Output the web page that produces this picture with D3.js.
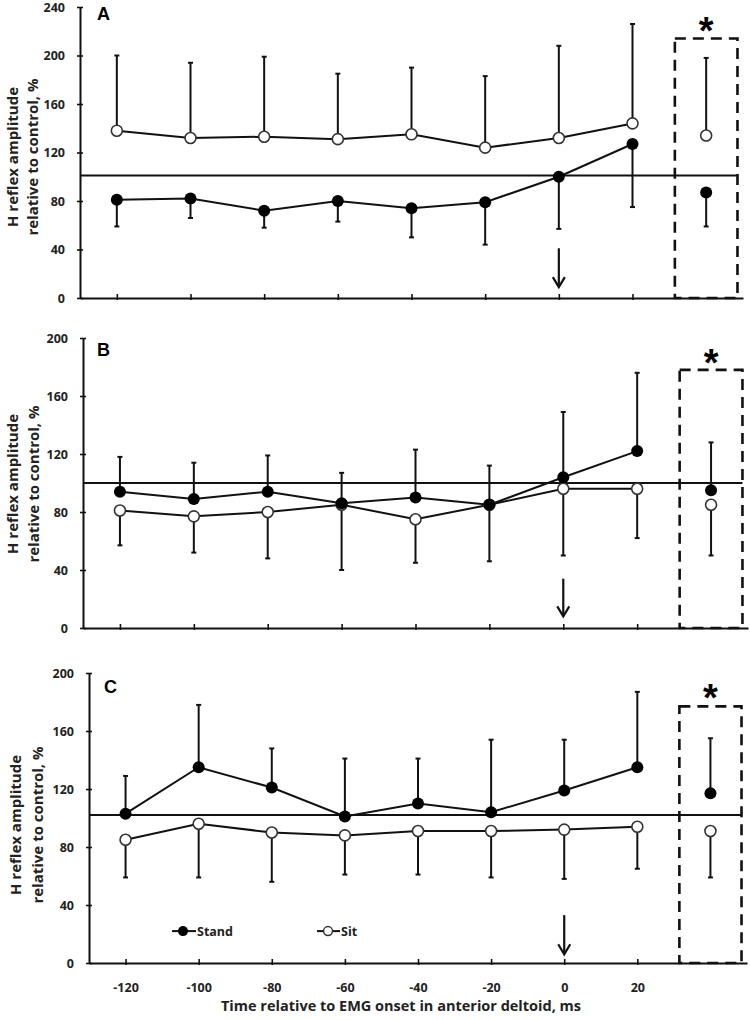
<!DOCTYPE html>
<html><head><meta charset="utf-8">
<script src="https://cdn.jsdelivr.net/npm/d3@7"></script>
<style>body{margin:0;background:#fff}svg{display:block}</style>
</head><body><svg id="c" width="750" height="1020"></svg>
<script>
// ---------- data ----------
const times = [-120, -100, -80, -60, -40, -20, 0, 20];
const summaryTime = 40;
const xTickLabels = ["-120", "-100", "-80", "-60", "-40", "-20", "0", "20"];
const yTicksA = [0, 40, 80, 120, 160, 200, 240];
const yTicksBC = [0, 40, 80, 120, 160, 200];
const legendNames = ["Stand", "Sit"];
const panelLabels = ["A", "B", "C"];
const xTitle = "Time relative to EMG onset in anterior deltoid, ms";
const yTitle1 = "H reflex amplitude";
const yTitle2 = "relative to control, %";
const refValues = [101, 100, 102];

// Panel A (stand SD drawn downward, sit SD upward)
const standA = [81, 82, 72, 80, 74, 79, 100, 127];
const standAErr = [59, 66, 58, 63, 50, 44, 57, 75];
const sitA = [138, 132, 133, 131, 135, 124, 132, 144];
const sitAErr = [200, 194, 199, 185, 190, 183, 208, 226];
const standASum = [87, 59];   // [mean, error end]
const sitASum = [134, 198];

// Panel B (stand SD upward, sit SD downward)
const standB = [94, 89, 94, 86, 90, 85, 104, 122];
const standBErr = [118, 114, 119, 107, 123, 112, 149, 176];
const sitB = [81, 77, 80, 85, 75, 85, 96, 96];
const sitBErr = [57, 52, 48, 40, 45, 46, 50, 62];
const standBSum = [95, 128];
const sitBSum = [85, 50];

// Panel C (stand SD upward, sit SD downward)
const standC = [103, 135, 121, 101, 110, 104, 119, 135];
const standCErr = [129, 178, 148, 141, 141, 154, 154, 187];
const sitC = [85, 96, 90, 88, 91, 91, 92, 94];
const sitCErr = [59, 59, 56, 61, 61, 59, 58, 65];
const standCSum = [117, 155];
const sitCSum = [91, 59];

// ---------- layout ----------
const ink = "#111";
const FONT = "'Open Sans', Lato, sans-serif";
const panels = [
  {label: panelLabels[0], top: 7, bottom: 298, axisX: 80, xRight: 743, yMax: 240, yTicks: yTicksA,
   stand: standA, standErr: standAErr, sit: sitA, sitErr: sitAErr, standSum: standASum, sitSum: sitASum,
   ref: refValues[0], boxTop: 214, star: 227, arrow: [41, 9], labelPos: [97, 20], titleC: 157, titleX: [18, 38], showX: false},
  {label: panelLabels[1], top: 338, bottom: 628, axisX: 83, xRight: 748, yMax: 200, yTicks: yTicksBC,
   stand: standB, standErr: standBErr, sit: sitB, sitErr: sitBErr, standSum: standBSum, sitSum: sitBSum,
   ref: refValues[1], boxTop: 178, star: 188, arrow: [34, 8], labelPos: [97, 356], titleC: 484, titleX: [18, 39], showX: false},
  {label: panelLabels[2], top: 673, bottom: 963, axisX: 89, xRight: 747, yMax: 200, yTicks: yTicksBC,
   stand: standC, standErr: standCErr, sit: sitC, sitErr: sitCErr, standSum: standCSum, sitSum: sitCSum,
   ref: refValues[2], boxTop: 177, star: 188, arrow: [33, 6], labelPos: [104, 693], titleC: 825, titleX: [21, 43], showX: true}
];

const svg = d3.select("#c");

panels.forEach(p => {
  const g = svg.append("g");
  const x = d3.scaleLinear().domain([-130, 50]).range([p.axisX, p.xRight]);
  const y = d3.scaleLinear().domain([0, p.yMax]).range([p.bottom, p.top]);

  // y axis
  const ya = g.append("g").attr("transform", `translate(${p.axisX},0)`)
    .call(d3.axisLeft(y).tickValues(p.yTicks).tickSize(3).tickSizeOuter(0).tickPadding(12));
  ya.select(".domain").attr("stroke", ink).attr("stroke-width", 2);
  ya.selectAll(".tick line").attr("stroke", ink).attr("stroke-width", 1.6).attr("x1", 3).attr("x2", -3);
  ya.selectAll(".tick text").attr("fill", "#222").style("font", `bold 12.5px ${FONT}`);

  // x axis
  const xa = g.append("g").attr("transform", `translate(0,${p.bottom})`)
    .call(d3.axisBottom(x).tickValues(times).tickSize(3).tickSizeOuter(0).tickPadding(17)
      .tickFormat((d, i) => p.showX ? xTickLabels[i] : ""));
  xa.select(".domain").attr("stroke", ink).attr("stroke-width", 2);
  xa.selectAll(".tick line").attr("stroke", ink).attr("stroke-width", 1.6).attr("y1", -4).attr("y2", 2);
  xa.selectAll(".tick text").attr("fill", "#222").style("font", `bold 12.5px ${FONT}`);

  // y title
  const tc = p.titleC;
  g.append("text").attr("transform", `translate(${p.titleX[0]},${tc}) rotate(-90)`)
    .attr("text-anchor", "middle").style("font", `bold 15px ${FONT}`).attr("fill", "#222").text(yTitle1);
  g.append("text").attr("transform", `translate(${p.titleX[1]},${tc}) rotate(-90)`)
    .attr("text-anchor", "middle").style("font", `bold 15px ${FONT}`).attr("fill", "#222").text(yTitle2);

  // panel label
  g.append("text").attr("x", p.labelPos[0]).attr("y", p.labelPos[1])
    .style("font", "bold 18px 'Liberation Sans', Arial, sans-serif").attr("fill", "#000").text(p.label);

  // reference line
  g.append("line").attr("x1", x(-130)).attr("x2", x(48.5)).attr("y1", y(p.ref)).attr("y2", y(p.ref))
    .attr("stroke", ink).attr("stroke-width", 2);

  // dashed box
  g.append("rect").attr("x", x(31.5)).attr("y", y(p.boxTop))
    .attr("width", x(48.5) - x(31.5)).attr("height", y(0) - y(p.boxTop))
    .attr("fill", "none").attr("stroke", ink).attr("stroke-width", 2.6).attr("stroke-dasharray", "11,7");

  // star
  g.append("text").attr("x", x(summaryTime)).attr("y", y(p.star) + 21).attr("text-anchor", "middle")
    .style("font", "bold 38px 'Liberation Sans', Arial, sans-serif").attr("fill", "#000").text("*");

  // arrow
  const ax = x(0), a0 = y(p.arrow[0]), a1 = y(p.arrow[1]);
  g.append("line").attr("x1", ax).attr("x2", ax).attr("y1", a0).attr("y2", a1)
    .attr("stroke", ink).attr("stroke-width", 2.2);
  g.append("path").attr("d", `M${ax - 6},${a1 - 10}L${ax},${a1}L${ax + 6},${a1 - 10}`)
    .attr("fill", "none").attr("stroke", ink).attr("stroke-width", 2.2);

  const standPts = times.map((t, i) => ({t, v: p.stand[i], e: p.standErr[i]}));
  const sitPts = times.map((t, i) => ({t, v: p.sit[i], e: p.sitErr[i]}));
  const standAll = standPts.concat([{t: summaryTime, v: p.standSum[0], e: p.standSum[1]}]);
  const sitAll = sitPts.concat([{t: summaryTime, v: p.sitSum[0], e: p.sitSum[1]}]);

  // error bars
  const drawErr = (pts) => {
    pts.forEach(d => {
      g.append("line").attr("x1", x(d.t)).attr("x2", x(d.t)).attr("y1", y(d.v)).attr("y2", y(d.e))
        .attr("stroke", ink).attr("stroke-width", 2);
      g.append("line").attr("x1", x(d.t) - 2.5).attr("x2", x(d.t) + 2.5).attr("y1", y(d.e)).attr("y2", y(d.e))
        .attr("stroke", ink).attr("stroke-width", 2);
    });
  };
  drawErr(standAll);
  drawErr(sitAll);

  // lines
  const line = d3.line().x(d => x(d.t)).y(d => y(d.v));
  g.append("path").datum(sitPts).attr("d", line).attr("fill", "none").attr("stroke", ink).attr("stroke-width", 2);
  g.append("path").datum(standPts).attr("d", line).attr("fill", "none").attr("stroke", ink).attr("stroke-width", 2);

  // markers
  g.selectAll(".sitm").data(sitAll).enter().append("circle")
    .attr("cx", d => x(d.t)).attr("cy", d => y(d.v)).attr("r", 5.5)
    .attr("fill", "#fff").attr("stroke", "#333").attr("stroke-width", 1.6);
  g.selectAll(".standm").data(standAll).enter().append("circle")
    .attr("cx", d => x(d.t)).attr("cy", d => y(d.v)).attr("r", 6)
    .attr("fill", "#000");

  if (p.showX) {
    // x title
    g.append("text").attr("x", 401).attr("y", 1011).attr("text-anchor", "middle")
      .style("font", `bold 14.5px ${FONT}`).attr("fill", "#222").text(xTitle);
    // legend
    const ly = y(22);
    g.append("line").attr("x1", 172).attr("x2", 196).attr("y1", ly).attr("y2", ly).attr("stroke", ink).attr("stroke-width", 2);
    g.append("circle").attr("cx", 183).attr("cy", ly).attr("r", 5).attr("fill", "#000");
    g.append("text").attr("x", 197).attr("y", ly + 4.5).style("font", `bold 12.5px ${FONT}`).attr("fill", "#222").text(legendNames[0]);
    g.append("line").attr("x1", 317).attr("x2", 340).attr("y1", ly).attr("y2", ly).attr("stroke", ink).attr("stroke-width", 2);
    g.append("circle").attr("cx", 328).attr("cy", ly).attr("r", 4.5).attr("fill", "#fff").attr("stroke", "#333").attr("stroke-width", 1.5);
    g.append("text").attr("x", 341).attr("y", ly + 4.5).style("font", `bold 12.5px ${FONT}`).attr("fill", "#222").text(legendNames[1]);
  }
});
</script>
</body></html>
